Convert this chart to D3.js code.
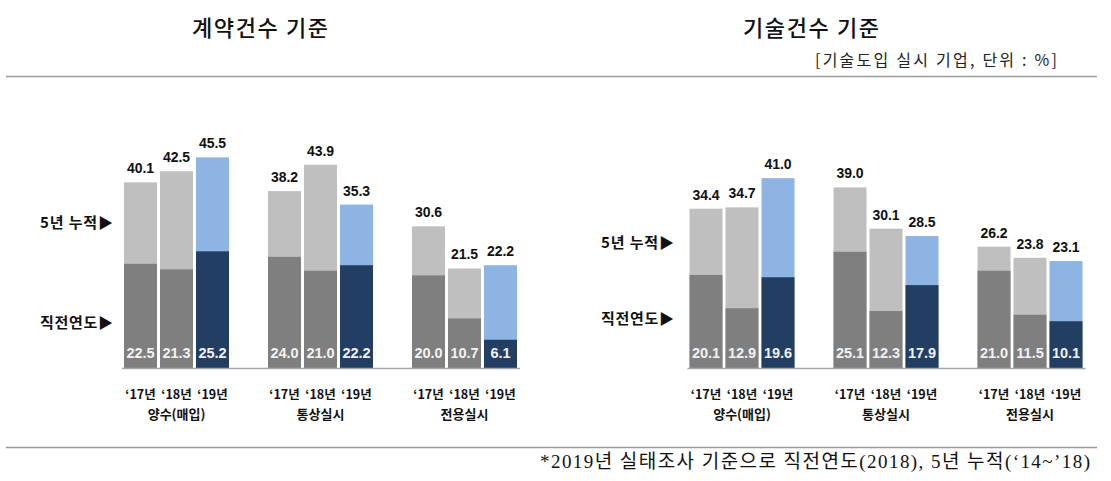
<!DOCTYPE html>
<html><head><meta charset="utf-8">
<script src="https://cdn.jsdelivr.net/npm/d3@7"></script>
<style>
html,body{margin:0;padding:0;background:#fff;}
svg{display:block;}
</style>
</head><body>
<svg id="chart" width="1111" height="481"></svg>
<script>
// ---- data ----
const categories = ["양수(매입)", "통상실시", "전용실시"];
const years = ["‘17년", "‘18년", "‘19년"];
const contractCumulative = [[40.1, 42.5, 45.5], [38.2, 43.9, 35.3], [30.6, 21.5, 22.2]];
const contractPrevYear   = [[22.5, 21.3, 25.2], [24.0, 21.0, 22.2], [20.0, 10.7, 6.1]];
const techCumulative     = [[34.4, 34.7, 41.0], [39.0, 30.1, 28.5], [26.2, 23.8, 23.1]];
const techPrevYear       = [[20.1, 12.9, 19.6], [25.1, 12.3, 17.9], [21.0, 11.5, 10.1]];
const titles = ["계약건수 기준", "기술건수 기준"];
const rowLabels = ["5년 누적▶", "직전연도▶"];
const unitNote = "[기술도입 실시 기업, 단위 : %]";
const footNote = "*2019년 실태조사 기준으로 직전연도(2018), 5년 누적(‘14~’18)";

// ---- drawing ----
const svg = d3.select("#chart");
const KR = "'Noto Sans CJK KR','Noto Sans',sans-serif";
const NUM = "'Liberation Sans',Arial,sans-serif";
const colors = {
  cumGray: "#bfbfbf", prevGray: "#7f7f7f",
  cumBlue: "#8db4e2", prevBlue: "#233e63"
};

// frame lines
svg.append("line").attr("x1", 6).attr("x2", 1097).attr("y1", 76.5).attr("y2", 76.5)
  .attr("stroke", "#9a9a9a").attr("stroke-width", 1.5);
svg.append("line").attr("x1", 6).attr("x2", 1097).attr("y1", 447.5).attr("y2", 447.5)
  .attr("stroke", "#9a9a9a").attr("stroke-width", 1.5);

// unit note
svg.append("text").attr("x", 815).attr("y", 66).attr("text-anchor", "start")
  .attr("font-family", KR).attr("font-size", 16).attr("fill", "#222")
  .attr("textLength", 242).attr("lengthAdjust", "spacing").text(unitNote);

// footnote
svg.append("text").attr("x", 540).attr("y", 468).attr("text-anchor", "start")
  .attr("font-family", "'Liberation Serif','DejaVu Serif','Noto Sans CJK KR',serif")
  .attr("font-size", 19).attr("fill", "#111")
  .attr("textLength", 550).attr("lengthAdjust", "spacing").text(footNote);

const y = d3.scaleLinear().domain([0, 50]).range([368, 368 - 50 * 4.63]);

const panels = [
  { title: titles[0], titleX: 260, cum: contractCumulative, prev: contractPrevYear,
    range: [104.5, 536.5], labelX: 113, labelY: [223, 323] },
  { title: titles[1], titleX: 811, cum: techCumulative, prev: techPrevYear,
    range: [670, 1102], labelX: 674, labelY: [243, 319] }
];

panels.forEach(p => {
  const g = svg.append("g");
  g.append("text").attr("x", p.titleX - 68).attr("y", 36).attr("text-anchor", "start")
    .attr("font-family", KR).attr("font-size", 22).attr("font-weight", 500)
    .attr("fill", "#111").attr("textLength", 136).attr("lengthAdjust", "spacing").text(p.title);

  const x0 = d3.scaleBand().domain(categories).range(p.range).paddingInner(0).paddingOuter(0);
  const x1 = d3.scaleBand().domain(years).range([-52.5, 52.5]).paddingInner(3 / 36).paddingOuter(0);

  // row labels
  rowLabels.forEach((t, i) => {
    g.append("text").attr("x", p.labelX - 73).attr("y", p.labelY[i]).attr("dy", "0.35em")
      .attr("text-anchor", "start").attr("font-family", KR).attr("font-size", 15)
      .attr("font-weight", 700).attr("fill", "#111")
      .attr("textLength", 73).attr("lengthAdjust", "spacing").text(t);
  });

  categories.forEach((c, ci) => {
    const cx = x0(c) + x0.bandwidth() / 2;
    const cg = g.append("g").attr("transform", `translate(${cx},0)`);
    years.forEach((yr, yi) => {
      const isLast = yi === years.length - 1;
      const bx = x1(yr), bw = x1.bandwidth();
      const vCum = p.cum[ci][yi], vPrev = p.prev[ci][yi];
      cg.append("rect").attr("x", bx).attr("width", bw)
        .attr("y", y(vCum)).attr("height", y(0) - y(vCum))
        .attr("fill", isLast ? colors.cumBlue : colors.cumGray);
      cg.append("rect").attr("x", bx).attr("width", bw)
        .attr("y", y(vPrev)).attr("height", y(0) - y(vPrev))
        .attr("fill", isLast ? colors.prevBlue : colors.prevGray);
      cg.append("text").attr("x", bx + bw / 2).attr("y", y(vCum) - 9)
        .attr("text-anchor", "middle").attr("font-family", NUM).attr("font-size", 14)
        .attr("font-weight", 700).attr("fill", "#111").text(vCum.toFixed(1));
      cg.append("text").attr("x", bx + bw / 2).attr("y", 358)
        .attr("text-anchor", "middle").attr("font-family", NUM).attr("font-size", 14.5)
        .attr("font-weight", 700).attr("fill", "#f2f2f2").text(vPrev.toFixed(1));
      cg.append("text").attr("x", bx + bw / 2).attr("y", 395).attr("dy", "0.35em")
        .attr("text-anchor", "middle").attr("font-family", KR).attr("font-size", 12.5)
        .attr("font-weight", 700).attr("fill", "#111").text(yr);
    });
    cg.append("text").attr("x", 0).attr("y", 414).attr("dy", "0.35em")
      .attr("text-anchor", "middle").attr("font-family", KR).attr("font-size", 13)
      .attr("font-weight", 700).attr("fill", "#111").text(c);
  });

  // baseline
  const first = x0(categories[0]) + x0.bandwidth() / 2 + x1(years[0]) - 2;
  const last = x0(categories[categories.length - 1]) + x0.bandwidth() / 2 + x1(years[years.length - 1]) + x1.bandwidth() + 3;
  g.append("line").attr("x1", first).attr("x2", last).attr("y1", y(0) + 0.5).attr("y2", y(0) + 0.5)
    .attr("stroke", "#a6a6a6").attr("stroke-width", 1.5);
});
</script>
</body></html>
